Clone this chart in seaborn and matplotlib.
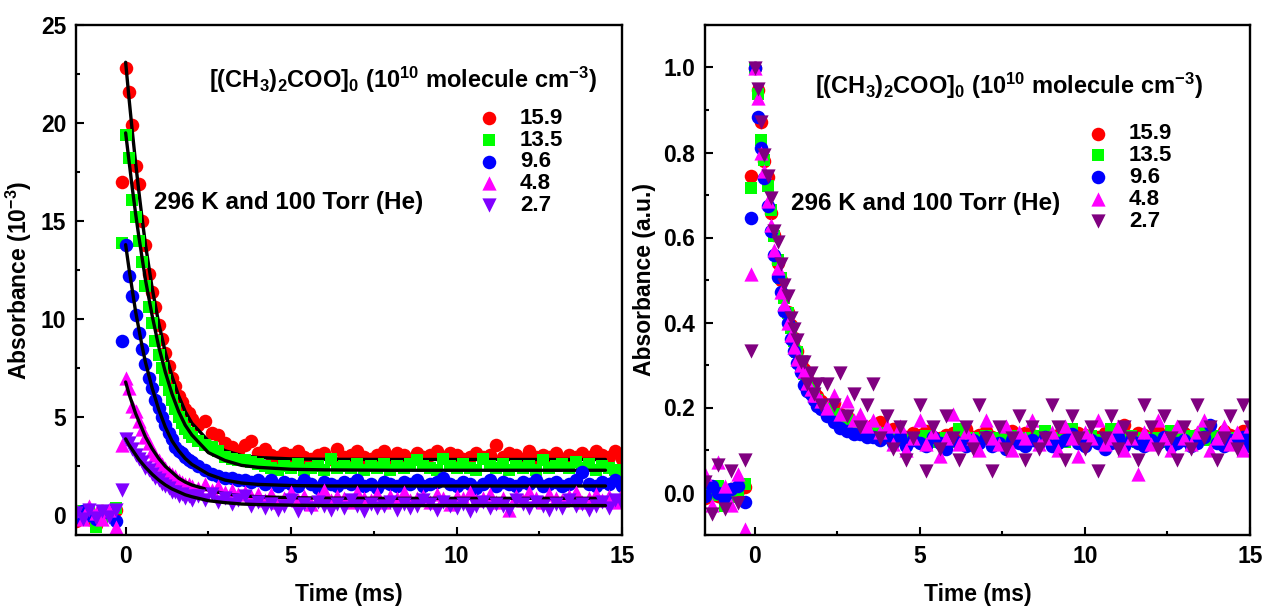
import numpy as np
import pandas as pd
import seaborn as sns
import matplotlib.pyplot as plt
from matplotlib.ticker import MultipleLocator

sns.set_style('ticks')
plt.rcParams['font.family'] = ['Liberation Sans', 'DejaVu Sans']
plt.rcParams['font.weight'] = 'bold'
plt.rcParams['axes.labelweight'] = 'bold'
plt.rcParams['mathtext.fontset'] = 'custom'
plt.rcParams['mathtext.rm'] = 'Liberation Sans:bold'
plt.rcParams['mathtext.it'] = 'Liberation Sans:bold'
plt.rcParams['mathtext.bf'] = 'Liberation Sans:bold'
for k in ['text.color', 'axes.labelcolor', 'xtick.color', 'ytick.color', 'axes.edgecolor']:
    plt.rcParams[k] = 'black'

# sample times (ms), shared by all traces
t_ms = [-1.5, -1.3, -1.1, -0.9, -0.7, -0.5, -0.3, -0.1,
        0.0, 0.1, 0.2, 0.3, 0.4, 0.5, 0.6, 0.7, 0.8, 0.9, 1.0,
        1.1, 1.2, 1.3, 1.4, 1.5, 1.6, 1.7, 1.8, 1.9, 2.0,
        2.2, 2.4, 2.6, 2.8, 3.0, 3.2, 3.4, 3.6, 3.8, 4.0,
        4.2, 4.4, 4.6, 4.8, 5.0, 5.2, 5.4, 5.6, 5.8, 6.0,
        6.2, 6.4, 6.6, 6.8, 7.0, 7.2, 7.4, 7.6, 7.8, 8.0,
        8.2, 8.4, 8.6, 8.8, 9.0, 9.2, 9.4, 9.6, 9.8, 10.0,
        10.2, 10.4, 10.6, 10.8, 11.0, 11.2, 11.4, 11.6, 11.8, 12.0,
        12.2, 12.4, 12.6, 12.8, 13.0, 13.2, 13.4, 13.6, 13.8, 14.0,
        14.2, 14.4, 14.6, 14.8, 15.0]

# absorbance (10^-3) for each initial concentration
abs_159 = [-0.3, 0.1, -0.2, -0.5, 0.2, 0.1, 0.3, 17.0,
           22.8, 21.6, 19.9, 17.8, 16.9, 15.0, 13.8, 12.3, 11.4, 10.6, 9.7,
           9.0, 8.3, 7.6, 7.0, 6.6, 6.1, 5.8, 5.4, 5.2, 4.9,
           4.6, 4.8, 4.2, 4.1, 3.7, 3.5, 3.3, 3.6, 3.8, 3.2,
           3.4, 3.1, 3.0, 3.2, 3.1, 3.3, 3.0, 2.9, 3.1, 3.2,
           2.9, 3.4, 3.0, 3.1, 3.3, 3.0, 2.9, 3.1, 3.3, 3.0,
           3.2, 3.1, 2.9, 3.2, 3.0, 3.1, 3.3, 3.0, 3.2, 3.1,
           2.9, 3.0, 3.2, 3.0, 3.1, 3.6, 3.0, 3.2, 3.1, 2.9,
           3.3, 3.0, 3.1, 3.0, 3.2, 2.9, 3.1, 3.0, 3.2, 3.0,
           3.3, 3.1, 3.0, 3.3, 2.9]
abs_135 = [0.2, -0.1, 0.3, -0.6, -0.2, 0.1, 0.4, 13.9,
           19.4, 18.2, 16.1, 15.2, 14.0, 12.9, 11.7, 10.6, 9.8, 8.9, 8.2,
           7.5, 6.9, 6.4, 5.9, 5.4, 5.0, 4.7, 4.4, 4.2, 4.0,
           3.8, 3.6, 3.5, 3.3, 3.0, 2.9, 2.8, 2.8, 2.7, 2.6,
           2.5, 2.4, 2.3, 2.5, 2.4, 2.6, 2.3, 2.4, 2.5, 2.3,
           2.9, 2.4, 2.5, 2.4, 2.6, 2.3, 2.5, 2.4, 2.6, 2.3,
           2.5, 2.4, 2.6, 2.8, 2.5, 2.4, 2.3, 2.9, 2.5, 2.4,
           2.6, 2.4, 2.3, 2.9, 2.5, 2.4, 2.6, 2.3, 2.5, 2.4,
           2.5, 2.3, 2.8, 2.4, 2.5, 2.6, 2.4, 2.7, 2.4, 2.6,
           2.3, 2.5, 2.4, 2.3, 2.2]
abs_96 = [-0.1, 0.2, 0.0, -0.2, 0.1, 0.2, -0.3, 8.9,
          13.8, 12.2, 11.2, 10.2, 9.3, 8.5, 7.7, 7.0, 6.5, 5.9, 5.5,
          5.0, 4.6, 4.2, 3.9, 3.5, 3.3, 3.2, 3.0, 2.8, 2.7,
          2.5, 2.3, 2.1, 2.0, 1.9, 1.9, 1.8, 1.8, 1.7, 1.8,
          1.6, 1.8, 1.5, 1.7, 1.6, 1.5, 1.8, 1.6, 1.4, 1.7,
          1.6, 1.5, 1.7, 1.6, 1.8, 1.5, 1.6, 1.4, 1.7, 1.6,
          1.5, 1.7, 1.6, 1.8, 1.5, 1.6, 1.7, 1.9, 1.6, 1.5,
          1.7, 1.6, 1.4, 1.6, 1.8, 1.5, 1.7, 1.6, 1.5, 1.7,
          1.6, 1.8, 1.5, 1.6, 1.7, 1.5, 1.6, 1.8, 2.2, 1.6,
          1.5, 1.7, 1.6, 1.8, 1.5]
abs_48 = [0.3, -0.2, 0.5, 0.1, -0.2, 0.3, -0.6, 3.6,
          7.0, 6.5, 5.6, 5.3, 4.8, 4.4, 4.0, 3.7, 3.3, 3.1, 2.8,
          2.6, 2.4, 2.2, 2.1, 2.0, 1.8, 1.7, 1.6, 1.6, 1.5,
          1.4, 1.6, 1.3, 1.5, 1.2, 1.3, 1.1, 1.2, 1.0, 1.1,
          0.8, 1.1, 0.7, 0.9, 1.2, 0.8, 1.0, 0.6, 0.9, 1.3,
          0.8, 1.0, 0.9, 0.7, 1.2, 0.9, 0.8, 1.1, 0.7, 1.0,
          0.9, 1.2, 0.8, 0.9, 1.0, 0.7, 1.1, 0.9, 0.6, 1.0,
          0.9, 1.2, 0.8, 0.9, 1.1, 0.7, 0.9, 0.3, 1.0, 0.8,
          1.2, 0.9, 0.7, 1.1, 0.9, 0.8, 1.0, 1.2, 0.7, 0.9,
          1.1, 0.8, 1.0, 0.7, 1.1]
abs_27 = [0.1, -0.2, 0.25, -0.15, 0.2, -0.1, 0.3, 1.3,
          3.9, 3.7, 3.4, 3.1, 2.9, 2.7, 2.4, 2.3, 2.1, 1.9, 1.8,
          1.6, 1.5, 1.4, 1.2, 1.2, 1.0, 1.1, 0.9, 1.0, 0.8,
          1.0, 0.8, 1.1, 0.7, 0.9, 0.6, 0.8, 1.0, 0.5, 0.7,
          0.4, 0.6, 0.3, 0.5, 0.8, 0.2, 0.6, 0.4, 0.7, 0.5,
          0.3, 0.6, 0.4, 0.8, 0.5, 0.2, 0.6, 0.4, 0.5, 0.7,
          0.3, 0.6, 0.4, 0.5, 0.8, 0.6, 0.3, 0.7, 0.5, 0.4,
          0.6, 0.2, 0.5, 0.7, 0.4, 0.6, 0.5, 0.3, 0.8, 0.6,
          0.4, 0.7, 0.5, 0.3, 0.6, 0.4, 0.8, 0.5, 0.6, 0.3,
          0.5, 0.7, 0.4, 0.8, 0.6]

# fitted curves (left panel)
fit_t = [0.0, 0.1, 0.2, 0.3, 0.4, 0.5, 0.6, 0.8, 1.0, 1.2, 1.4, 1.6,
         1.8, 2.0, 2.5, 3.0, 3.5, 4.0, 5.0, 6.0, 8.0, 10.0, 12.0, 14.5]
fit_159 = [23.1, 21.3, 19.6, 18.0, 16.5, 15.1, 13.8, 11.6, 9.8, 8.3, 7.1, 6.1,
           5.3, 4.7, 3.8, 3.3, 3.05, 2.95, 2.88, 2.86, 2.85, 2.85, 2.85, 2.85]
fit_135 = [19.5, 18.1, 16.7, 15.4, 14.2, 13.1, 12.0, 10.2, 8.6, 7.3, 6.2, 5.3,
           4.6, 4.1, 3.2, 2.8, 2.55, 2.45, 2.35, 2.32, 2.3, 2.3, 2.3, 2.3]
fit_96 = [13.8, 12.6, 11.5, 10.4, 9.5, 8.6, 7.8, 6.5, 5.4, 4.5, 3.8, 3.3,
          2.9, 2.6, 2.1, 1.8, 1.65, 1.58, 1.52, 1.5, 1.5, 1.5, 1.5, 1.5]
fit_48 = [6.8, 6.2, 5.7, 5.2, 4.8, 4.4, 4.0, 3.4, 2.9, 2.5, 2.2, 1.9,
          1.7, 1.55, 1.3, 1.1, 1.0, 0.95, 0.9, 0.88, 0.87, 0.87, 0.87, 0.87]
fit_27 = [3.9, 3.6, 3.35, 3.1, 2.85, 2.65, 2.45, 2.1, 1.8, 1.55, 1.35, 1.2,
          1.05, 0.95, 0.75, 0.65, 0.58, 0.55, 0.52, 0.5, 0.5, 0.5, 0.5, 0.5]

labels = ['15.9', '13.5', '9.6', '4.8', '2.7']
traces = [abs_159, abs_135, abs_96, abs_48, abs_27]
fits = [fit_159, fit_135, fit_96, fit_48, fit_27]
markers = ['o', 's', 'o', '^', 'v']
sizes = [95, 75, 95, 105, 105]
colors_left = ['#FF0000', '#00FF00', '#0000FF', '#FF00FF', '#8000FF']
colors_right = ['#FF0000', '#00FF00', '#0000FF', '#FF00FF', '#800080']

title_txt = r'[(CH$_3$)$_2$COO]$_0$ (10$^{10}$ molecule cm$^{-3}$)'
cond_txt = '296 K and 100 Torr (He)'

W, H = 1263, 606
fig = plt.figure(figsize=(W / 100, H / 100), dpi=100)
ax1 = fig.add_axes([76 / W, 71 / H, 546 / W, 510 / H])
ax2 = fig.add_axes([705 / W, 71 / H, 545 / W, 510 / H])

for i in range(5):
    df = pd.DataFrame({'t': t_ms, 'a': traces[i]})
    sns.scatterplot(data=df, x='t', y='a', ax=ax1, color=colors_left[i],
                    marker=markers[i], s=sizes[i], linewidth=0,
                    label=labels[i], zorder=2)
    sns.lineplot(x=fit_t, y=fits[i], ax=ax1, color='black', lw=2.4,
                 estimator=None, sort=False, zorder=2)

# right panel: same traces normalised to their peak
for i in range(5):
    peak = max(traces[i])
    df = pd.DataFrame({'t': t_ms, 'a': np.array(traces[i]) / peak})
    sns.scatterplot(data=df, x='t', y='a', ax=ax2, color=colors_right[i],
                    marker=markers[i], s=sizes[i], linewidth=0,
                    label=labels[i], zorder=2)

ax1.set(xlim=(-1.5, 15), ylim=(-1, 25))
ax2.set(xlim=(-1.5, 15), ylim=(-0.1, 1.1))
ax1.yaxis.set_major_locator(MultipleLocator(5))
ax1.yaxis.set_minor_locator(MultipleLocator(2.5))
ax2.yaxis.set_major_locator(MultipleLocator(0.2))
ax2.yaxis.set_minor_locator(MultipleLocator(0.1))
ax2.yaxis.set_major_formatter(plt.FormatStrFormatter('%.1f'))

for ax in (ax1, ax2):
    ax.xaxis.set_major_locator(MultipleLocator(5))
    ax.xaxis.set_minor_locator(MultipleLocator(2.5))
    for sp in ax.spines.values():
        sp.set_visible(True)
        sp.set_linewidth(1.7)
        sp.set_color('black')
    ax.tick_params(which='major', direction='in', length=5.5, width=1.5,
                   labelsize=16.5, pad=7)
    ax.tick_params(which='minor', direction='in', length=3, width=1.5)
    ax.set_xlabel('Time (ms)', fontsize=16.5, fontweight='bold', labelpad=11)

ax1.set_ylabel(r'Absorbance (10$^{-3}$)', fontsize=16.5, fontweight='bold', labelpad=5)
ax2.set_ylabel('Absorbance (a.u.)', fontsize=16.5, fontweight='bold', labelpad=5)

ax1.text(0.954, 0.876, title_txt, transform=ax1.transAxes, ha='right',
         va='baseline', fontsize=17, fontweight='bold')
ax2.text(0.914, 0.865, title_txt, transform=ax2.transAxes, ha='right',
         va='baseline', fontsize=17, fontweight='bold')
ax1.text(0.143, 0.640, cond_txt, transform=ax1.transAxes, ha='left',
         va='baseline', fontsize=17.5, fontweight='bold')
ax2.text(0.158, 0.638, cond_txt, transform=ax2.transAxes, ha='left',
         va='baseline', fontsize=17.5, fontweight='bold')

leg_kw = dict(loc='upper left', frameon=False, borderpad=0, borderaxespad=0,
              handlelength=1.0, handletextpad=0.89, labelspacing=0.04,
              prop={'size': 16, 'weight': 'bold'})
ax1.legend(bbox_to_anchor=(0.736, 0.838), **leg_kw)
ax2.legend(bbox_to_anchor=(0.701, 0.807), **leg_kw)

fig.savefig('out.png', dpi=100)
